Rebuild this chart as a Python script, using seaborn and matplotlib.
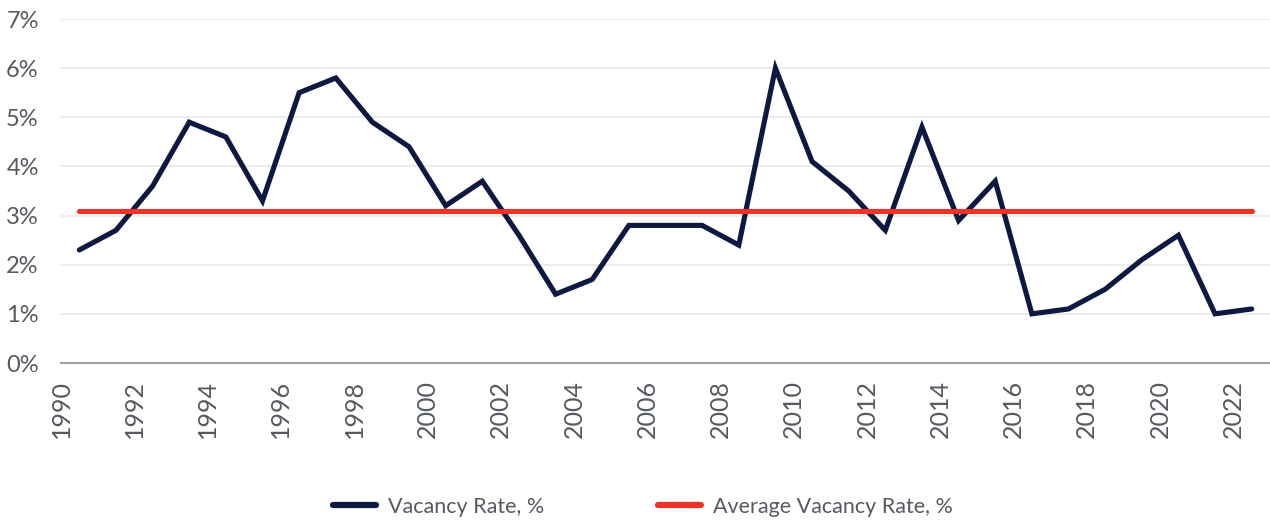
import matplotlib
matplotlib.use("Agg")
import matplotlib.pyplot as plt
import seaborn as sns
import pandas as pd
from matplotlib.ticker import FuncFormatter, FixedLocator

# Annual vacancy rate (%) and the long-run average
years = list(range(1990, 2023))
vacancy_rate = [2.3, 2.7, 3.6, 4.9, 4.6, 3.3, 5.5, 5.8, 4.9, 4.4, 3.2, 3.7, 2.6, 1.4,
                1.7, 2.8, 2.8, 2.8, 2.4, 6.0, 4.1, 3.5, 2.7, 4.8, 2.9, 3.7, 1.0, 1.1,
                1.5, 2.1, 2.6, 1.0, 1.1]
average_rate = 3.1
series_names = ["Vacancy Rate, %", "Average Vacancy Rate, %"]
tick_years = list(range(1990, 2023, 2))
y_ticks = list(range(0, 8))

NAVY = "#0d1940"
RED = "#ee3427"
TEXT = "#555a60"

sns.set_theme(style="white")
plt.rcParams["font.family"] = ["Lato", "DejaVu Sans"]

df = pd.DataFrame({"Year": years,
                   series_names[0]: vacancy_rate,
                   series_names[1]: average_rate})
long = df.melt(id_vars="Year", var_name="Series", value_name="Rate")

fig = plt.figure(figsize=(12.7, 5.23), dpi=100)
ax = fig.add_axes([61 / 1270, 1 - 363 / 523, 1209 / 1270, (363 - 19) / 523])

sns.lineplot(data=long, x="Year", y="Rate", hue="Series", hue_order=series_names,
             palette=[NAVY, RED], linewidth=3.7, ax=ax, legend=False,
             solid_capstyle="round", solid_joinstyle="miter")

ax.set_xlim(years[0] - 0.5, years[-1] + 0.5)
ax.set_ylim(0, 7)
ax.yaxis.set_major_locator(FixedLocator(y_ticks))
ax.yaxis.set_major_formatter(FuncFormatter(lambda v, _: f"{v:.0f}%"))
# year labels sit at the left edge of each year's band
ax.set_xticks([y - 0.5 for y in tick_years])
ax.set_xticklabels([str(y) for y in tick_years], rotation=90)

ax.grid(axis="y", color="#e9e9e9", linewidth=1.2)
ax.set_axisbelow(True)
for side in ["top", "right", "left"]:
    ax.spines[side].set_visible(False)
ax.spines["bottom"].set_color("#a0a0a0")
ax.spines["bottom"].set_linewidth(1.5)
ax.tick_params(axis="both", length=0, labelcolor=TEXT)
ax.tick_params(axis="y", pad=16, labelsize=17)
ax.tick_params(axis="x", pad=12, labelsize=18)
ax.set_xlabel("")
ax.set_ylabel("")

handles = [plt.Line2D([], [], color=NAVY, linewidth=4.5, solid_capstyle="round"),
           plt.Line2D([], [], color=RED, linewidth=4.5, solid_capstyle="round")]
leg = fig.legend(handles, series_names, loc="center", bbox_to_anchor=(0.506, 1 - 507 / 523),
                 ncol=2, frameon=False, handlelength=2.0, handletextpad=0.55,
                 columnspacing=5.3, prop={"size": 15.5})
for t in leg.get_texts():
    t.set_color(TEXT)

fig.savefig("out.png", dpi=100, facecolor="white")
